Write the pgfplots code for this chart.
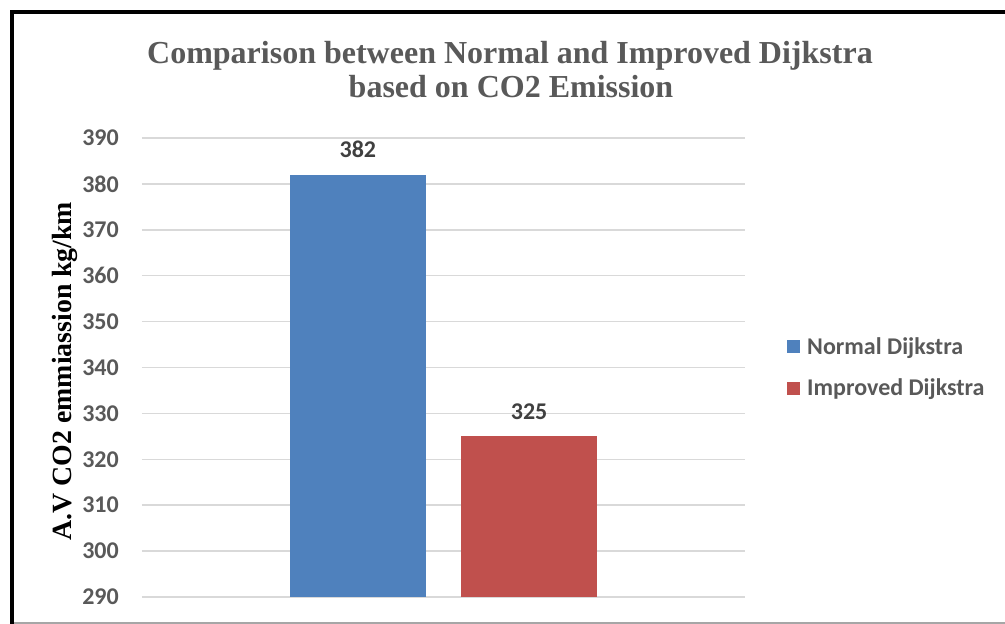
\documentclass[border=0pt]{standalone}
\usepackage{pgfplots}
\pgfplotsset{compat=1.18}
\usepackage{fontspec}
\setmainfont{Liberation Serif}
\newfontfamily\calibri{Carlito}
\definecolor{txtgray}{HTML}{595959}
\definecolor{lblgray}{HTML}{404040}
\definecolor{gridgray}{HTML}{D9D9D9}
\definecolor{barblue}{HTML}{4F81BD}
\definecolor{barred}{HTML}{C0504D}
\newcommand{\lblfont}{\calibri\bfseries\fontsize{24}{29}\selectfont}
\begin{document}
\begin{tikzpicture}[x=1pt,y=1pt]
\useasboundingbox (0,0) rectangle (1005,624);
% frame
\draw[black, line width=4.5pt] (12,-3) -- (12,612) -- (1010,612);
\draw[black!35, line width=1.2pt] (14,1) -- (1005,1);
% title
\node[anchor=base, font=\bfseries\fontsize{32}{38}\selectfont, text=txtgray, inner sep=0pt]
  at (510,560) {Comparison between Normal and Improved Dijkstra};
\node[anchor=base, font=\bfseries\fontsize{32}{38}\selectfont, text=txtgray, inner sep=0pt]
  at (511,526) {based on CO2 Emission};
% y label
\node[rotate=90, anchor=base, font=\bfseries\fontsize{27.8}{33}\selectfont, text=black, inner sep=0pt]
  at (71,253) {A.V CO2 emmiassion kg/km};
\begin{axis}[
  at={(142pt,27pt)}, anchor=south west,
  scale only axis, width=603pt, height=459pt,
  xmin=0, xmax=1, ymin=290, ymax=390,
  ytick={290,300,...,390},
  xtick=\empty,
  axis line style={draw=none},
  major tick length=0pt,
  ymajorgrids, grid style={gridgray, line width=1.5pt},
  /pgf/number format/assume math mode=true,
  yticklabel style={font=\lblfont, text=txtgray, inner sep=0pt, anchor=east, xshift=-23pt},
  ybar, bar width=0.2255, bar shift=0pt,
  nodes near coords,
  nodes near coords style={font=\lblfont, text=lblgray, anchor=base, inner sep=0pt, yshift=17pt},
  legend style={at={(1.0697,0.5)}, anchor=west, draw=none, fill=none,
    font=\lblfont, text=txtgray, row sep=23pt, inner sep=0pt,
    nodes={inner sep=0pt},
    /tikz/every odd column/.append style={column sep=7pt}},
  legend cell align=left,
  legend image code/.code={\fill[#1] (0pt,-6.5pt) rectangle (13pt,6.5pt);},
]
\addplot[fill=barblue, draw=none] coordinates {(0.358,382)};
\addlegendentry{Normal Dijkstra}
\addplot[fill=barred, draw=none] coordinates {(0.642,325)};
\addlegendentry{Improved Dijkstra}
\end{axis}
\end{tikzpicture}
\end{document}
